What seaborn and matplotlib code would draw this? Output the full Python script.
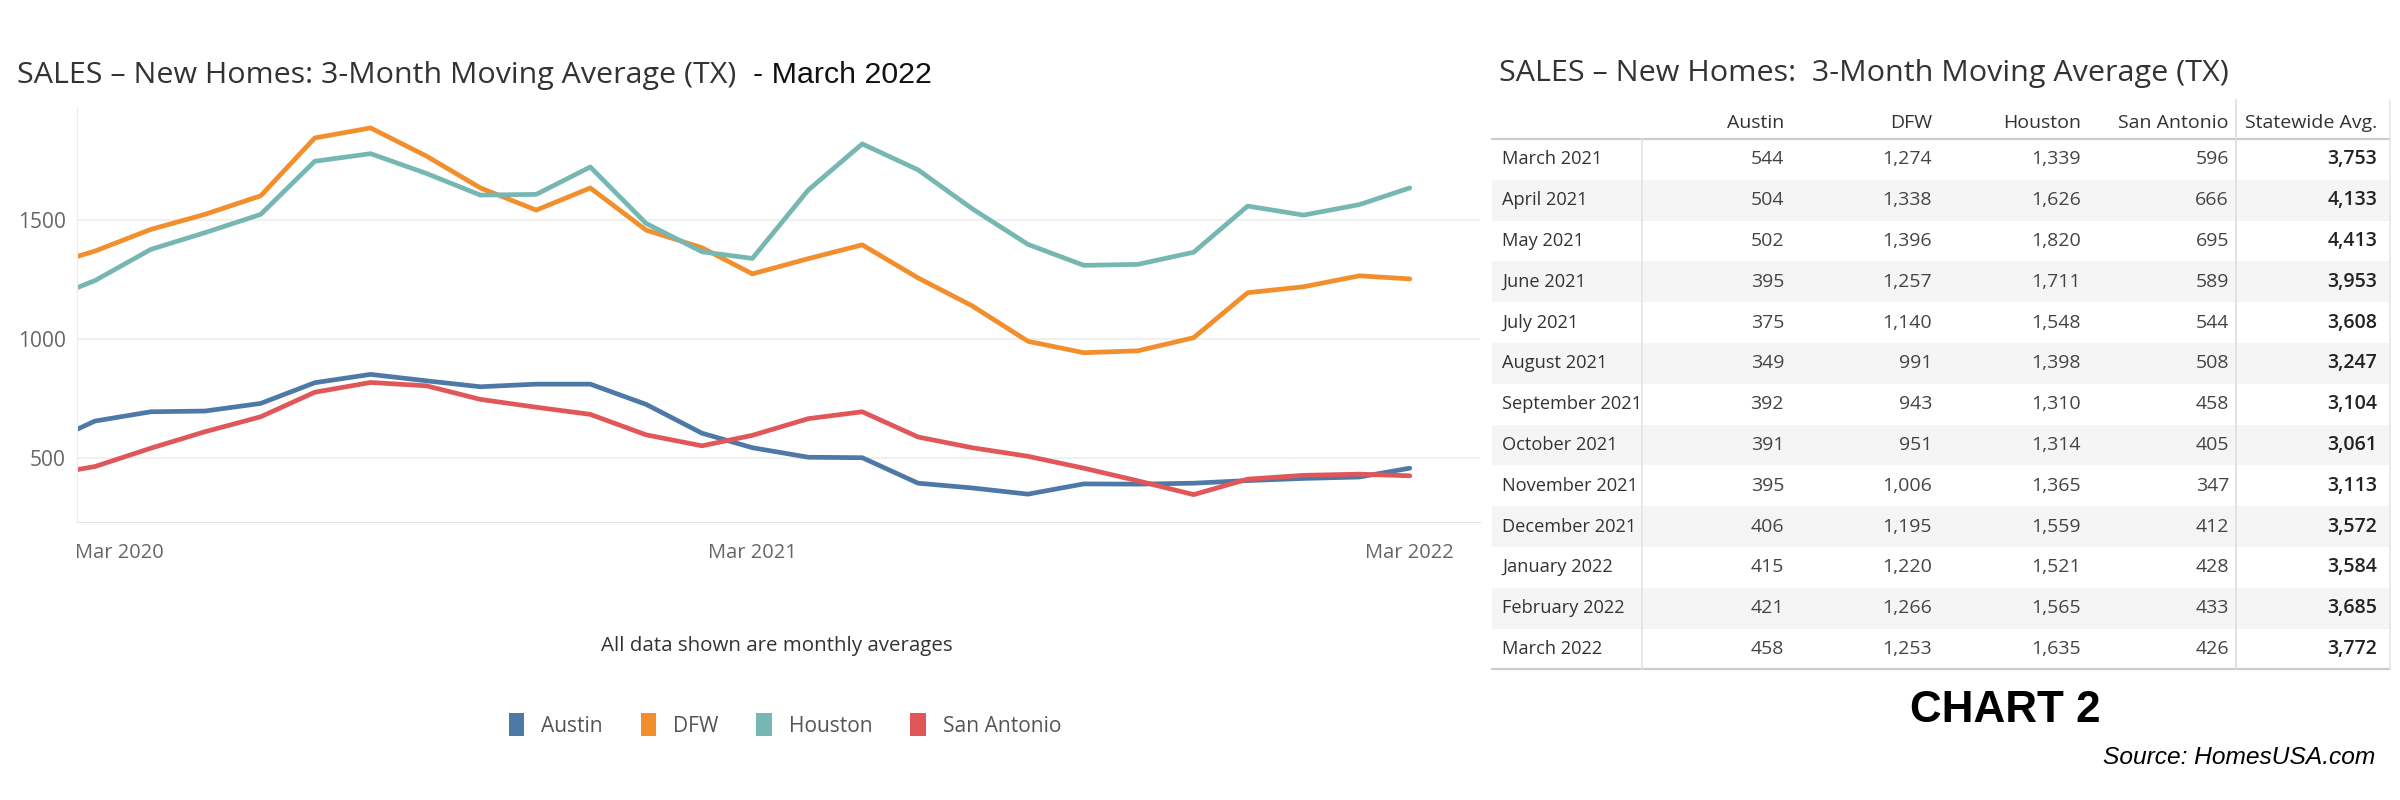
import numpy as np
import pandas as pd
import matplotlib
matplotlib.use("Agg")
import matplotlib.pyplot as plt
import matplotlib.dates as mdates
from matplotlib.patches import Rectangle, Patch
from matplotlib.transforms import ScaledTranslation
import seaborn as sns

# months shown: Feb 2020 (clipped at the axis edge) .. Mar 2022
months = pd.date_range("2020-02-01", "2022-03-01", freq="MS")

# values (Feb 2020 - Feb 2021)
austin_early = [555, 656, 695, 698, 730, 817, 852, 825, 800, 811, 811, 726, 605]
dfw_early = [1304, 1370, 1461, 1524, 1602, 1845, 1887, 1769, 1635, 1542, 1635, 1458, 1384]
houston_early = [1159, 1246, 1377, 1447, 1524, 1747, 1779, 1696, 1605, 1608, 1723, 1486, 1367]
sanantonio_early = [427, 465, 542, 611, 674, 777, 818, 804, 747, 714, 684, 598, 552]

# table values (Mar 2021 - Mar 2022)
austin_tbl = [544, 504, 502, 395, 375, 349, 392, 391, 395, 406, 415, 421, 458]
dfw_tbl = [1274, 1338, 1396, 1257, 1140, 991, 943, 951, 1006, 1195, 1220, 1266, 1253]
houston_tbl = [1339, 1626, 1820, 1711, 1548, 1398, 1310, 1314, 1365, 1559, 1521, 1565, 1635]
sanantonio_tbl = [596, 666, 695, 589, 544, 508, 458, 405, 347, 412, 428, 433, 426]
statewide_tbl = [3753, 4133, 4413, 3953, 3608, 3247, 3104, 3061, 3113, 3572, 3584, 3685, 3772]

cities = ["Austin", "DFW", "Houston", "San Antonio"]
colors = {"Austin": "#4e79a7", "DFW": "#f28e2b", "Houston": "#76b7b2", "San Antonio": "#e15759"}

series = {
    "Austin": austin_early + austin_tbl,
    "DFW": dfw_early + dfw_tbl,
    "Houston": houston_early + houston_tbl,
    "San Antonio": sanantonio_early + sanantonio_tbl,
}
df = pd.concat(
    [pd.DataFrame({"month": months, "sales": v, "city": c}) for c, v in series.items()],
    ignore_index=True,
)

sns.set_style("white")
plt.rcParams["font.family"] = ["Open Sans", "DejaVu Sans"]

W, H = 2400, 800
fig = plt.figure(figsize=(24, 8), dpi=100)

def pt(px):
    return px * 72 / 100

# overlay in pixel coordinates for titles, table, legend, notes
ov = fig.add_axes([0, 0, 1, 1])
ov.set_xlim(0, W)
ov.set_ylim(H, 0)
ov.axis("off")

# ---- line chart ----
ax = fig.add_axes([77 / W, 1 - 522 / H, (1480 - 77) / W, (522 - 107) / H])
sns.lineplot(data=df, x="month", y="sales", hue="city", palette=colors,
             linewidth=3.4, ax=ax, legend=False)
ax.set_ylim(232, 1975)
ax.set_xlim(pd.Timestamp("2020-02-20"), pd.Timestamp("2022-04-09"))
ax.set_yticks([500, 1000, 1500])
ax.yaxis.grid(True, color="#f0f0f0", linewidth=1.5)
ax.set_axisbelow(True)
ax.set_xlabel("")
ax.set_ylabel("")
ax.xaxis.set_major_locator(mdates.MonthLocator(bymonth=3))
ax.xaxis.set_major_formatter(mdates.DateFormatter("%b %Y"))
ax.xaxis.set_minor_locator(mdates.MonthLocator())
ax.tick_params(axis="y", length=0, pad=8, labelsize=pt(21), labelcolor="#666666")
ax.tick_params(axis="x", which="major", length=7, width=1, color="#dddddd",
               pad=8, labelsize=pt(20), labelcolor="#666666")
ax.tick_params(axis="x", which="minor", length=4, width=1, color="#e6e6e6")
for s in ["top", "right"]:
    ax.spines[s].set_visible(False)
ax.spines["left"].set_color("#ececec")
ax.spines["bottom"].set_color("#e3e3e3")
fig.canvas.draw()
first = ax.get_xticklabels()[0]
first.set_transform(first.get_transform() + ScaledTranslation(-0.2, 0, fig.dpi_scale_trans))
first.set_ha("left")

# left title (two fonts, like the original)
t1 = ov.text(17, 75, "SALES \u2013 New Homes: 3-Month Moving Average (TX)", fontsize=pt(30.4),
             color="#333333", va="center", ha="left")
ov.annotate("  - March 2022", xy=(1, 0.5), xycoords=t1, va="center", ha="left",
            fontsize=pt(30.4), color="#111111", family=["Liberation Sans", "DejaVu Sans"])

ov.text(777, 646, "All data shown are monthly averages", fontsize=pt(20.5),
        color="#333333", ha="center", va="center")

handles = [Patch(facecolor=colors[c], edgecolor="none", label=c) for c in cities]
leg = fig.legend(handles=handles, loc="center", bbox_to_anchor=(785 / W, 1 - 725 / H),
                 ncol=4, frameon=False, fontsize=pt(21), handlelength=0.75, handleheight=1.25,
                 handletextpad=0.8, columnspacing=1.8)
for txt in leg.get_texts():
    txt.set_color("#555555")

# ---- table ----
ov.text(1499, 73, "SALES \u2013 New Homes:  3-Month Moving Average (TX)", fontsize=pt(30.5),
        color="#333333", va="center", ha="left")

tbl_left, tbl_right = 1492, 2390
hdr_y, row0, row_h = 123, 139, 40.8
col_right = [1784, 1932, 2081, 2229, 2377]
headers = cities + ["Statewide Avg."]
row_labels = [m.strftime("%B %Y") for m in months[-13:]]
table_cols = [austin_tbl, dfw_tbl, houston_tbl, sanantonio_tbl, statewide_tbl]
n_rows = len(row_labels)

for i in range(n_rows):
    if i % 2 == 1:
        ov.add_patch(Rectangle((tbl_left, row0 + i * row_h), tbl_right - tbl_left, row_h,
                               facecolor="#f5f5f5", edgecolor="none", zorder=0))
tbl_bottom = row0 + n_rows * row_h
ov.plot([tbl_left, tbl_right], [row0, row0], color="#cccccc", lw=1.6)
ov.plot([tbl_left, tbl_right], [tbl_bottom, tbl_bottom], color="#cccccc", lw=1.6)
ov.plot([1642, 1642], [row0, tbl_bottom], color="#e3e3e3", lw=1.2)
ov.plot([2236, 2236], [100, tbl_bottom], color="#dddddd", lw=1.2)
ov.plot([tbl_right, tbl_right], [100, tbl_bottom], color="#e6e6e6", lw=1.2)

for x, h in zip(col_right, headers):
    ov.text(x, hdr_y, h, fontsize=pt(19.5), color="#333333", ha="right", va="center")
for i, lab in enumerate(row_labels):
    yc = row0 + (i + 0.5) * row_h
    ov.text(1502, yc, lab, fontsize=pt(18.3), color="#333333", ha="left", va="center")
    for j, (x, col) in enumerate(zip(col_right, table_cols)):
        ov.text(x, yc, f"{col[i]:,}", fontsize=pt(19.5), ha="right", va="center",
                color="#222222" if j == 4 else "#444444",
                fontweight="semibold" if j == 4 else "normal")

ov.text(2005, 711, "CHART 2", fontsize=pt(44), fontweight="bold", color="black",
        ha="center", va="center", family=["Liberation Sans Narrow", "Liberation Sans"])
ov.text(2375, 758, "Source: HomesUSA.com", fontsize=pt(24.5), style="italic", color="black",
        ha="right", va="center", family=["Liberation Sans Narrow", "Liberation Sans"])

fig.savefig("out.png", dpi=100, facecolor="white")
